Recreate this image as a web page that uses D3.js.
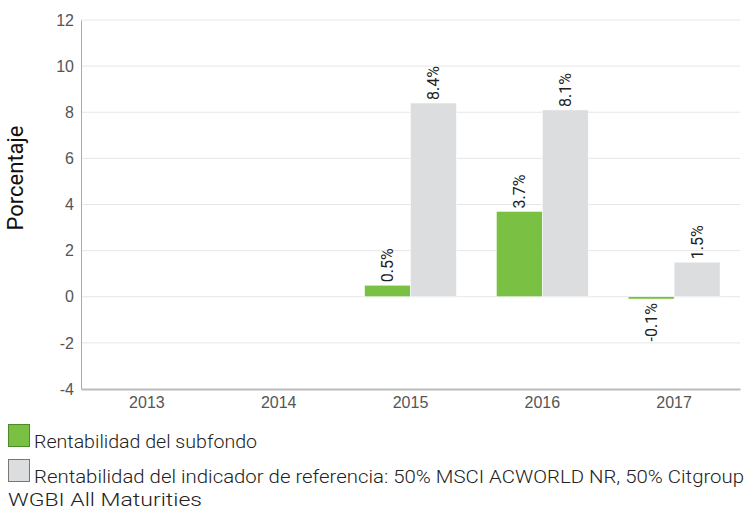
<!DOCTYPE html>
<html>
<head>
<meta charset="utf-8">
<script src="https://cdn.jsdelivr.net/npm/d3@7"></script>
<style>
  body { margin: 0; background: #fff; }
  svg { font-family: Roboto, "Liberation Sans", sans-serif; }
</style>
</head>
<body>
<svg id="chart" width="748" height="510"></svg>
<script>
// Chart data
const years = ['2013', '2014', '2015', '2016', '2017'];
const fundValues = [null, null, 0.5, 3.7, -0.1];
const benchValues = [null, null, 8.4, 8.1, 1.5];
const yTicks = [-4, -2, 0, 2, 4, 6, 8, 10, 12];
const seriesNames = [
    'Rentabilidad del subfondo',
    'Rentabilidad del indicador de referencia: 50% MSCI ACWORLD NR, 50% Citgroup',
    'WGBI All Maturities'
];

const svg = d3.select('#chart');
const margin = { left: 81, right: 8, top: 20, bottom: 121 };
const width = 748 - margin.left - margin.right;
const height = 510 - margin.top - margin.bottom;

const g = svg.append('g').attr('transform', `translate(${margin.left},${margin.top})`);

const x = d3.scaleBand().domain(years).range([0, width]);
const y = d3.scaleLinear().domain([-4, 12]).range([height, 0]);
const inner = d3.scaleBand().domain(['fund', 'bench']).range([20, x.bandwidth() - 20]);

// Grid lines
g.append('g')
    .selectAll('line')
    .data(yTicks.filter(d => d > -4))
    .enter()
    .append('line')
    .attr('x1', 0)
    .attr('x2', width)
    .attr('y1', d => y(d))
    .attr('y2', d => y(d))
    .style('stroke', '#e6e6e6')
    .style('stroke-width', 1);

// Y axis
const yAxis = g.append('g')
    .call(d3.axisLeft(y).tickValues(yTicks).tickSize(0).tickPadding(7).tickFormat(d => String(d)));
yAxis.select('.domain').style('stroke', '#aaa');
yAxis.selectAll('text').style('font-size', '16px').style('fill', '#555');

// X axis
const xAxis = g.append('g')
    .attr('transform', `translate(0,${height})`)
    .call(d3.axisBottom(x).tickSize(0).tickPadding(8));
xAxis.select('.domain').style('stroke', '#bbb').style('stroke-width', 2);
xAxis.selectAll('text').style('font-size', '16px').style('fill', '#555');

// Y axis title
svg.append('text')
    .attr('transform', 'translate(23,178) rotate(-90)')
    .attr('text-anchor', 'middle')
    .style('font-size', '22px')
    .style('fill', '#111')
    .text('Porcentaje');

// Bars
const rows = [];
years.forEach((yr, i) => {
    if (fundValues[i] !== null) rows.push({ year: yr, key: 'fund', value: fundValues[i] });
    if (benchValues[i] !== null) rows.push({ year: yr, key: 'bench', value: benchValues[i] });
});
const colors = { fund: '#7ac143', bench: '#dcdddf' };

g.append('g')
    .selectAll('rect')
    .data(rows)
    .enter()
    .append('rect')
    .attr('x', d => x(d.year) + inner(d.key))
    .attr('width', inner.bandwidth())
    .attr('y', d => y(Math.max(0, d.value)))
    .attr('height', d => Math.abs(y(d.value) - y(0)))
    .style('fill', d => colors[d.key])
    .style('stroke', '#fff')
    .style('stroke-width', 0.5);

// Value labels
g.append('g')
    .selectAll('text')
    .data(rows)
    .enter()
    .append('text')
    .attr('transform', d => {
        const cx = x(d.year) + inner(d.key) + inner.bandwidth() / 2;
        const yy = d.value >= 0 ? y(d.value) - 3 : y(d.value) + 4;
        return `translate(${cx},${yy}) rotate(-90)`;
    })
    .attr('text-anchor', d => d.value >= 0 ? 'start' : 'end')
    .attr('dy', '0.35em')
    .style('font-size', '16px')
    .style('fill', '#222')
    .text(d => d.value.toFixed(1) + '%');

// Legend
const legend = svg.append('g');
legend.append('rect')
    .attr('x', 8.5).attr('y', 424.5).attr('width', 21).attr('height', 22)
    .style('fill', colors.fund).style('stroke', '#4e8a2a');
legend.append('rect')
    .attr('x', 8.5).attr('y', 459.5).attr('width', 21).attr('height', 22)
    .style('fill', colors.bench).style('stroke', '#777');

const legendLines = [
    { text: seriesNames[0], x: 34, y: 448, len: 223 },
    { text: seriesNames[1], x: 34, y: 483, len: 710 },
    { text: seriesNames[2], x: 8, y: 506, len: 194 }
];
legend.selectAll('text.legend')
    .data(legendLines)
    .enter()
    .append('text')
    .attr('class', 'legend')
    .attr('x', d => d.x)
    .attr('y', d => d.y)
    .attr('textLength', d => d.len)
    .attr('lengthAdjust', 'spacingAndGlyphs')
    .style('font-size', '18px')
    .style('font-weight', 300)
    .style('fill', '#222')
    .text(d => d.text);
</script>
</body>
</html>
